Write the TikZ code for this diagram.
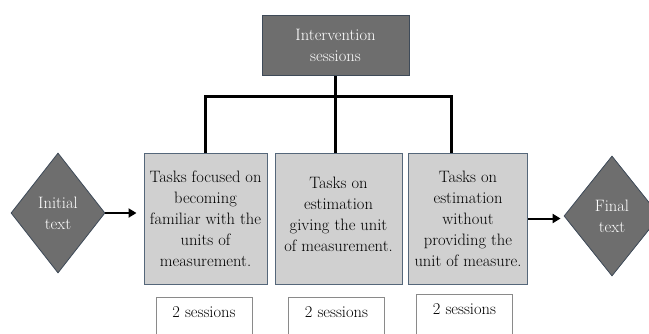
\documentclass[tikz,border=0pt]{standalone}
\usetikzlibrary{shapes.geometric,arrows.meta,calc}
\definecolor{darkfill}{HTML}{6E6E6E}
\definecolor{darkedge}{HTML}{3E4A58}
\definecolor{lightfill}{HTML}{D0D0D0}
\definecolor{lightedge}{HTML}{55677A}
\definecolor{sessedge}{HTML}{8A8A8A}
\begin{document}
\begin{tikzpicture}[x=1pt,y=-1pt,
  txt/.style={font=\fontsize{16.5}{21}\selectfont},
  darkbox/.style={rectangle, draw=darkedge, line width=1pt, fill=darkfill, text=white, txt, align=center, inner sep=0pt},
  taskbox/.style={rectangle, draw=lightedge, line width=1pt, fill=lightfill, align=center, txt, minimum height=131pt, inner sep=0pt},
  decision/.style={diamond, draw=darkedge, line width=0.8pt, fill=darkfill, text=white, txt, minimum width=94pt, minimum height=120pt, inner sep=0pt, align=center},
  sessbox/.style={rectangle, draw=sessedge, line width=0.8pt, fill=white, minimum width=96pt, anchor=north, text height=15pt, text depth=30pt, inner ysep=5pt, txt},
  trunk/.style={line width=3pt, black},
  arr/.style={line width=2pt, black, -{Triangle[length=8pt,width=9pt]}}
]
\useasboundingbox (0,0) rectangle (649,333);
\clip (0,0) rectangle (649,333);

\node[darkbox, minimum width=147pt, minimum height=60pt] (top) at (335.5,45.5) {Intervention\\sessions};

\node[taskbox, minimum width=123pt] (box1) at (205.5,218.5) {Tasks focused on\\becoming\\familiar with the\\units of\\measurement.};
\node[taskbox, minimum width=127pt] (box2) at (338.5,218.5) {Tasks on\\estimation\\giving the unit\\of measurement.\\[-12pt]};
\node[taskbox, minimum width=119pt] (box3) at (468,218.5) {Tasks on\\estimation\\without\\providing the\\unit of measure.};

\node[decision] (init) at (58,213) {Initial\\text};
\node[decision, minimum width=96pt] (final) at (612,216) {Final\\text};

\node[sessbox] (s1) at (204,297) {2 sessions};
\node[sessbox] (s2) at (336.5,297) {2 sessions};
\node[sessbox] (s3) at (464.5,294) {2 sessions};

\coordinate (jl) at (206,96);
\coordinate (jr) at (451,96);
\draw[trunk] (top.south) -- (top.south |- box2.north);
\draw[trunk] (box1.north) -- (box1.north |- jl) -- (jr) -- (jr |- box3.north);

\draw[arr, shorten >=7pt] (init.east) -- (init.east -| box1.west);
\draw[arr, shorten >=3pt] (box3.east) -- (box3.east -| final.west);
\end{tikzpicture}
\end{document}
